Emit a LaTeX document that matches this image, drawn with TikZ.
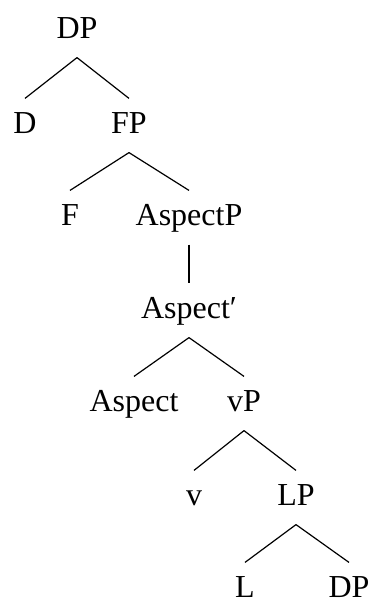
\documentclass[tikz,border=0pt]{standalone}
\usepackage{fontspec}
\setmainfont{Liberation Serif}
\usetikzlibrary{calc}

\begin{document}
\begin{tikzpicture}[x=1pt,y=-1pt,line width=1.2pt]
\tikzset{cat/.style={anchor=base,inner xsep=0pt,inner ysep=10pt,text height=24pt,text depth=9pt,
  font=\fontsize{32}{38}\selectfont}}
\useasboundingbox (0,0) rectangle (369,598);

\node[cat](top)at(77,38){DP};
\node[cat](d)at(25,133){D};
\node[cat](fp)at(129,133){FP};
\node[cat](f)at(70,225){F};
\node[cat](aspp)at(189,225){AspectP};
\node[cat](aspbar)at(189,318){Aspect′};
\node[cat](asp)at(134,411){Aspect};
\node[cat](vp)at(244,411){vP};
\node[cat](v)at(194,505){v};
\node[cat](lp)at(296,505){LP};
\node[cat](l)at(245,597){L};
\node[cat](obj)at(349,597){DP};

\foreach \a/\b in {top/d,top/fp,fp/f,fp/aspp,aspp/aspbar,aspbar/asp,aspbar/vp,vp/v,vp/lp,lp/l,lp/obj}
  \draw(\a.south)--(\b.north);
\end{tikzpicture}
\end{document}
